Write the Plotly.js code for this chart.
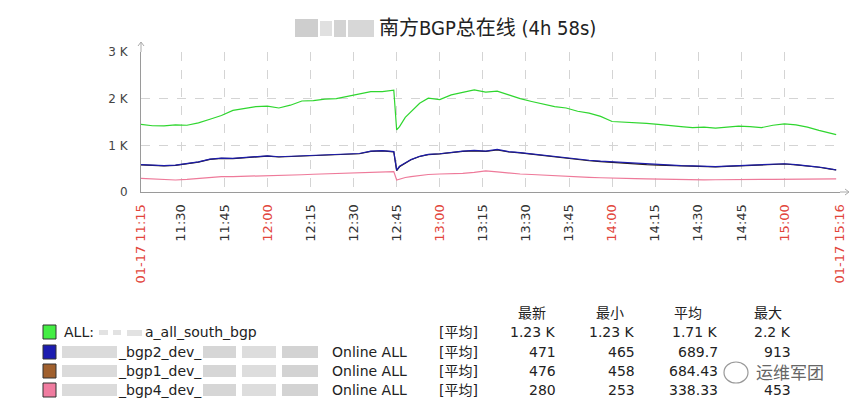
<!DOCTYPE html>
<html>
<head>
<meta charset="utf-8">
<script src="https://cdn.plot.ly/plotly-3.0.1.min.js"></script>
<style>
  html, body { margin: 0; padding: 0; background: #fff; }
  #chart { width: 866px; height: 412px; }
</style>
</head>
<body>
<div id="chart"></div>
<script>
// ---- data (values in sessions, times on 01-17) ----
const times = [
  '11:16', '11:20', '11:24', '11:28', '11:32', '11:36', '11:40', '11:44', '11:48', '11:52', '11:56',
  '12:00', '12:04', '12:08', '12:12', '12:16', '12:20', '12:24', '12:28', '12:32', '12:36', '12:40', '12:44',
  '12:45', '12:46', '12:48', '12:50', '12:53', '12:56',
  '13:00', '13:04', '13:08', '13:12', '13:16', '13:20', '13:24', '13:28', '13:32', '13:36', '13:40', '13:44',
  '13:48', '13:52', '13:56', '14:00', '14:04', '14:08', '14:12', '14:16', '14:20', '14:24', '14:28', '14:32',
  '14:36', '14:40', '14:44', '14:48', '14:52', '14:56', '15:00', '15:04', '15:08', '15:12', '15:16', '15:18',
];
const allSouth = [
  1450, 1420, 1415, 1440, 1430, 1480, 1560, 1640, 1750, 1790, 1830,
  1840, 1800, 1860, 1950, 1960, 1990, 2000, 2050, 2090, 2150, 2150, 2180,
  1330, 1400, 1600, 1720, 1900, 2010,
  1980, 2080, 2140, 2190, 2140, 2160, 2080, 2000, 1940, 1880, 1830, 1800,
  1730, 1690, 1620, 1510, 1500, 1480, 1470, 1450, 1420, 1400, 1380, 1390,
  1370, 1390, 1410, 1400, 1380, 1430, 1460, 1440, 1390, 1320, 1250, 1230,
];
const bgp2 = [
  585, 575, 565, 575, 610, 645, 705, 725, 720, 735, 765,
  775, 755, 765, 785, 795, 790, 805, 815, 825, 875, 885, 865,
  470, 550, 625, 695, 765, 805,
  820, 855, 875, 890, 875, 913, 865, 845, 815, 785, 755, 725,
  705, 680, 660, 645, 640, 630, 610, 585, 570, 565, 560, 550,
  545, 555, 565, 565, 575, 590, 605, 585, 565, 535, 495, 471,
];
const bgp1 = [
  580, 570, 560, 570, 600, 640, 700, 720, 715, 730, 760,
  770, 750, 760, 780, 790, 785, 800, 810, 820, 870, 880, 860,
  458, 540, 620, 690, 760, 800,
  815, 850, 870, 880, 870, 900, 860, 840, 810, 780, 750, 720,
  700, 670, 650, 630, 620, 600, 585, 575, 565, 560, 555, 545,
  540, 550, 560, 560, 570, 585, 600, 580, 560, 530, 490, 476,
];
const bgp4 = [
  293, 280, 262, 257, 270, 290, 315, 328, 330, 335, 340,
  343, 350, 360, 370, 380, 386, 392, 400, 405, 414, 425, 436,
  257, 280, 310, 330, 355, 375,
  386, 390, 400, 420, 453, 430, 400, 386, 375, 360, 345, 330,
  325, 315, 305, 293, 290, 285, 280, 275, 268, 257, 253, 258,
  262, 268, 270, 272, 270, 272, 275, 275, 272, 275, 278, 280,
];

const seriesNames = ['ALL:', '_bgp2_dev_', '_bgp1_dev_', '_bgp4_dev_'];
const seriesSuffix = ['a_all_south_bgp', 'Online ALL', 'Online ALL', 'Online ALL'];
const lineColors = ['#2fd62f', '#1c1caa', '#2b1d14', '#ee7a9a'];
const boxColors = ['#44ee44', '#1c1cb0', '#a0602e', '#f07ca0'];
const statHeaders = ['最新', '最小', '平均', '最大'];
// the bgp1 maximum is hidden under the watermark in the source image
const statRows = [
  ['1.23 K', '1.23 K', '1.71 K', '2.2 K'],
  ['471', '465', '689.7', '913'],
  ['476', '458', '684.43', ''],
  ['280', '253', '338.33', '453'],
];

const xTickTimes = ['11:16', '11:30', '11:45', '12:00', '12:15', '12:30', '12:45', '13:00', '13:15',
  '13:30', '13:45', '14:00', '14:15', '14:30', '14:45', '15:00', '15:19:20'];
const xTickText = ['01-17 11:15', '11:30', '11:45', '12:00', '12:15', '12:30', '12:45', '13:00', '13:15',
  '13:30', '13:45', '14:00', '14:15', '14:30', '14:45', '15:00', '01-17 15:16'];
const redTicks = ['01-17 11:15', '12:00', '13:00', '14:00', '15:00', '01-17 15:16'];
const yTickVals = [0, 1000, 2000, 3000];
const yTickText = ['0', '1 K', '2 K', '3 K'];

// ---- helpers ----
const day = '2024-01-17 ';
const ts = (t) => day + (t.length === 5 ? t + ':00' : t);
const FONT = '"DejaVu Sans", "Noto Sans CJK SC", sans-serif';
const FONT_C = '"DejaVu Sans Condensed", "DejaVu Sans", "Noto Sans CJK SC", sans-serif';
const L = 141, R = 840, T = 52, B = 192;
const px = (x) => (x - L) / (R - L);
const py = (y) => (B - y) / (B - T);

const traces = [allSouth, bgp2, bgp1, bgp4].map((ys, i) => ({
  type: 'scatter', mode: 'lines', x: times.map(ts), y: ys,
  line: { color: lineColors[i], width: 1.2 }, hoverinfo: 'skip', showlegend: false,
}));
const order = [3, 2, 1, 0].map((i) => traces[i]);   // green drawn last, on top

const ann = [], shapes = [];
const txt = (x, y, text, opts = {}) => ann.push(Object.assign({
  xref: 'paper', yref: 'paper', x: px(x), y: py(y), text, showarrow: false,
  xanchor: 'left', yanchor: 'middle', font: { family: FONT, size: 14, color: '#222' },
}, opts));
const blur = (x0, x1, y0, y1, c = '#cfcfcf') => shapes.push({
  type: 'rect', xref: 'paper', yref: 'paper', x0: px(x0), x1: px(x1), y0: py(y1), y1: py(y0),
  line: { width: 0 }, fillcolor: c, opacity: 0.75,
});

// title, with the blurred prefix
blur(295, 318, 19, 37, '#bdbdbd'); blur(320, 332, 21, 36, '#d6d6d6');
blur(334, 346, 20, 37, '#c4c4c4'); blur(348, 374, 20, 37, '#c9c9c9');
txt(377, 28, '南方BGP总在线 (4h 58s)', { font: { family: FONT_C, size: 20, color: '#222' } });

// axis arrowheads
shapes.push({ type: 'path', xref: 'paper', yref: 'paper', line: { color: '#aaa', width: 1 },
  path: `M ${px(141)} ${py(52)} L ${px(141)} ${py(42)} M ${px(138)} ${py(46)} L ${px(141)} ${py(42)} L ${px(144)} ${py(46)}` });
shapes.push({ type: 'path', xref: 'paper', yref: 'paper', line: { color: '#aaa', width: 1 },
  path: `M ${px(840)} ${py(192)} L ${px(849)} ${py(192)} M ${px(845)} ${py(189)} L ${px(849)} ${py(192)} L ${px(845)} ${py(195)}` });

// legend table
const statRight = [558, 637, 720, 793], statCenter = [532, 610, 688, 768];
statHeaders.forEach((h, j) => txt(statCenter[j], 313, h, { xanchor: 'center' }));
const rowY = [332, 352, 371, 390];
rowY.forEach((y, i) => {
  shapes.push({ type: 'rect', xref: 'paper', yref: 'paper', x0: px(43), x1: px(56), y0: py(y + 7), y1: py(y - 7),
    fillcolor: boxColors[i], line: { color: '#333', width: 1 } });
  if (i === 0) {
    txt(62, y, seriesNames[0]);
    blur(99, 108, y - 2, y + 3, '#d8d8d8'); blur(113, 121, y - 2, y + 3, '#d8d8d8'); blur(127, 142, y - 2, y + 4, '#d8d8d8');
    txt(143, y, seriesSuffix[0]);
  } else {
    blur(62, 117, y - 6, y + 6); txt(116, y, seriesNames[i]);
    blur(203, 236, y - 6, y + 6, '#c8c8c8'); blur(242, 276, y - 6, y + 6, '#d2d2d2'); blur(282, 318, y - 6, y + 6, '#c4c4c4');
    txt(330, y, seriesSuffix[i]);
  }
  txt(437, y, '[平均]');
  statRows[i].forEach((v, j) => { if (v) txt(statRight[j], y, v, { xanchor: 'right' }); });
});

// watermark (sits over the stats, as in the source image)
shapes.push({ type: 'circle', xref: 'paper', yref: 'paper', x0: px(724), x1: px(748), y0: py(383), y1: py(362),
  line: { color: '#999', width: 1.2 }, fillcolor: 'rgba(255,255,255,0.6)' });
txt(754, 373, '运维军团', { font: { family: FONT, size: 17, color: '#666' } });

const layout = {
  width: 866, height: 412,
  margin: { l: L, r: 866 - R, t: T, b: 412 - B },
  paper_bgcolor: '#fff', plot_bgcolor: '#fff',
  font: { family: FONT, size: 12, color: '#333' },
  xaxis: {
    type: 'date', range: [ts('11:16'), ts('15:19:20')],
    tickmode: 'array', tickvals: xTickTimes.map(ts),
    ticktext: xTickText.map((t) => redTicks.includes(t) ? `<span style="color:#e2463c">${t}</span>` : t),
    tickangle: -90, tickfont: { family: FONT, size: 13, color: '#333' }, ticklabelstandoff: 6,
    showgrid: true, gridcolor: '#d4d4d4', griddash: 'dash', gridwidth: 1,
    showline: true, linecolor: '#9a9a9a', zeroline: false, ticks: '',
  },
  yaxis: {
    range: [0, 3000], tickmode: 'array', tickvals: yTickVals, ticktext: yTickText,
    tickfont: { family: FONT, size: 12, color: '#444' }, ticklabelstandoff: 10,
    showgrid: true, gridcolor: '#d4d4d4', griddash: 'dash',
    showline: true, linecolor: '#9a9a9a', zeroline: false, ticks: '',
  },
  annotations: ann, shapes, showlegend: false,
};

Plotly.newPlot('chart', order, layout, { staticPlot: true, displayModeBar: false });
</script>
</body>
</html>
